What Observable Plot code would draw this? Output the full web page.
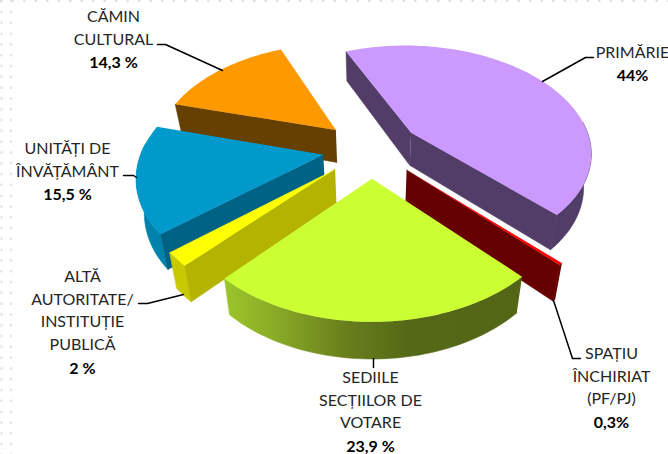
<!DOCTYPE html>
<html><head><meta charset="utf-8">
<style>html,body{margin:0;padding:0;background:#fff;overflow:hidden}svg{display:block}</style>
<script src="https://cdn.jsdelivr.net/npm/d3@7"></script>
<script src="https://cdn.jsdelivr.net/npm/@observablehq/plot@0.6"></script>
</head><body><script>
// Data
const categories = ["PRIMĂRIE","SPAȚIU ÎNCHIRIAT (PF/PJ)","SEDIILE SECȚIILOR DE VOTARE","ALTĂ AUTORITATE/ INSTITUȚIE PUBLICĂ","UNITĂȚI DE ÎNVĂȚĂMÂNT","CĂMIN CULTURAL"];
const shares = [44,0.3,23.9,2,15.5,14.3];
const valueLabels = ["44%","0,3%","23,9 %","2 %","15,5 %","14,3 %"];
const labelLines = [["PRIMĂRIE"],["SPAȚIU","ÎNCHIRIAT","(PF/PJ)"],["SEDIILE","SECȚIILOR DE","VOTARE"],["ALTĂ","AUTORITATE/","INSTITUȚIE","PUBLICĂ"],["UNITĂȚI DE","ÎNVĂȚĂMÂNT"],["CĂMIN","CULTURAL"]];

// Styles
const topColors  = ["#cc99ff","#ff0000","#ccff33","#ffff00","#0099cc","#ff9900"];
const rimColors  = ["#513d68","#660000","url(#limeRim)","#c9c900","#0082ad","#664000"];
const edgeColors = ["#513d68","#660000","#526615","#b3b300","#006285","#664000"];
const paintOrder = [5,4,3,0,1,2];

// Layout of the 3D view
const view = {cx:371, cy:148, a:181, b:107, k:0.17, explode:0.27, start:-113, depth:33, taper:0.965};
const labelPlace = [[632,52],[611,353],[370,377],[82,276],[67,148],[113,16]];
const lineStep = 22.9;
const leaders = [
  [[593,57],[585,57],[542,81]],
  [[553,300],[572,358],[580,358]],
  [[373,358],[373,367]],
  [[183,294],[147,303],[138,303]],
  [[136,177],[133,175],[123,175]],
  [[222,70],[165,44],[157,44]]
];

const rad = d => d*Math.PI/180;
function project(X,Y,low){
  const w = 1/(1-view.k*Y);
  let x = view.a*X*w, y = view.b*Y*w;
  if(low){ x *= view.taper; y += view.depth*(1+0.1*Y); }
  return {x:view.cx+x, y:view.cy+y};
}
// cumulative angles from the shares
let acc = view.start;
const slices = shares.map((v,i)=>{
  const t0 = acc; acc += v/100*360;
  const mid = rad((t0+acc)/2);
  return {i, t0, t1:acc, ex:view.explode*Math.cos(mid), ey:view.explode*Math.sin(mid)};
});
const rimAt = (s,t,low)=>project(s.ex+Math.cos(rad(t)), s.ey+Math.sin(rad(t)), low);
const apex  = (s,low)=>project(s.ex,s.ey,low);
const arc = (s,a,b,low)=>{
  const n = Math.max(2,Math.ceil(Math.abs(b-a)/1.5));
  return d3.range(n+1).map(j=>rimAt(s,a+(b-a)*j/n,low));
};
const poly = (pts,fill)=>Plot.line(pts,{x:"x",y:"y",fill,stroke:"none",curve:"linear"});
const wall = (pts,fill)=>Plot.line(pts,{x:"x",y:"y",fill,stroke:fill,strokeWidth:0.6,curve:"linear"});

const marks = [];
// faint dotted page guides
marks.push(Plot.ruleX([1,10.5],{stroke:"#e2e2e2",strokeWidth:2,strokeDasharray:"2.5 8.3"}));
marks.push(Plot.ruleY([0.5],{stroke:"#e2e2e2",strokeWidth:2,strokeDasharray:"2.5 9"}));
// gradient definition for the lime rim
marks.push(()=>{
  const ns="http://www.w3.org/2000/svg";
  const g=document.createElementNS(ns,"g");
  g.innerHTML=`<defs><linearGradient id="limeRim" x1="0" x2="1" y1="0" y2="0">
  <stop offset="0" stop-color="#9cc52b"/><stop offset="0.18" stop-color="#88a926"/>
  <stop offset="0.4" stop-color="#6a801d"/><stop offset="0.62" stop-color="#546817"/><stop offset="1" stop-color="#526615"/>
  </linearGradient></defs>`;
  return g;
});
for(const i of paintOrder){
  const s = slices[i];
  // rim wall: the part of the arc facing the viewer
  const rimFrom = s.t0 < -10 ? -6 : s.t0;
  const rimTo = s.t0>=180 ? Math.min(s.t1,180) : Math.min(s.t1,186);
  if(rimTo>rimFrom){
    const up=arc(s,rimFrom,rimTo,false), lo=arc(s,rimFrom,rimTo,true).reverse();
    marks.push(wall([...up,...lo],rimColors[i]));
  }
  // edge walls facing the viewer
  if(Math.sin(rad(s.t0-90))>0){
    marks.push(wall([apex(s,false),rimAt(s,s.t0,false),rimAt(s,s.t0,true),apex(s,true)],edgeColors[i]));
  }
  if(Math.sin(rad(s.t1+90))>0){
    marks.push(wall([apex(s,false),rimAt(s,s.t1,false),rimAt(s,s.t1,true),apex(s,true)],edgeColors[i]));
  }
  marks.push(poly([apex(s,false),...arc(s,s.t0,s.t1,false)],topColors[i]));
}
// leaders
for(const l of leaders){
  marks.push(Plot.line(l.map(([x,y])=>({x,y})),{x:"x",y:"y",stroke:"#000",strokeWidth:1.5}));
}
// labels
const nameRows=[], valueRows=[];
labelLines.forEach((lines,i)=>{
  const [x,y]=labelPlace[i];
  lines.forEach((t,j)=>nameRows.push({x,y:y+j*lineStep,t}));
  valueRows.push({x,y:y+lines.length*lineStep+0.5,t:valueLabels[i]});
});
const font={fontFamily:"Lato, 'Open Sans', sans-serif",fontSize:16,textAnchor:"middle",lineAnchor:"middle"};
marks.push(Plot.text(nameRows,{x:"x",y:"y",text:"t",fill:"#262626",...font}));
marks.push(Plot.text(valueRows,{x:"x",y:"y",text:"t",fill:"#000",fontWeight:"bold",...font}));

const chart = Plot.plot({
  width:668,height:454,margin:0,
  x:{domain:[0,668],range:[0,668],axis:null},
  y:{domain:[0,454],range:[0,454],axis:null},
  marks
});
document.body.appendChild(chart);
</script></body></html>
